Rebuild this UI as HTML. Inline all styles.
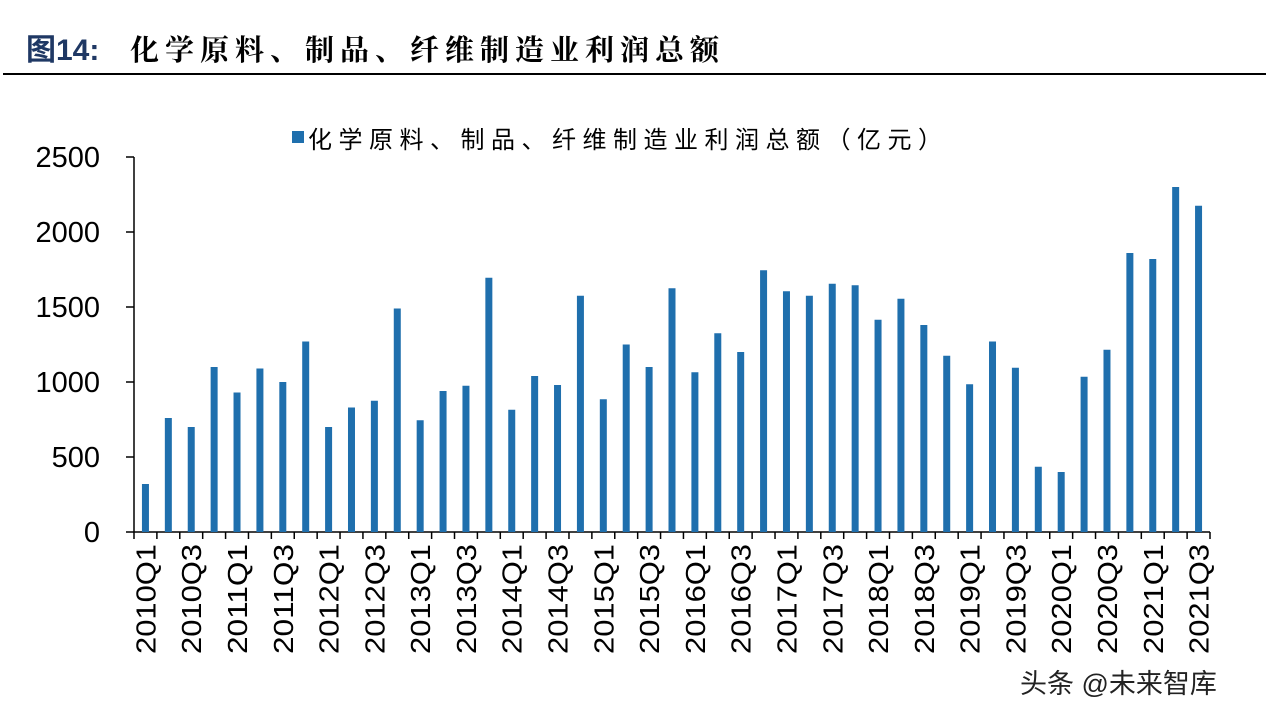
<!DOCTYPE html>
<html><head><meta charset="utf-8"><style>
body{margin:0;background:#fff;width:1284px;height:720px;overflow:hidden;font-family:"Liberation Sans","Noto Sans CJK SC",sans-serif}
</style></head><body>
<svg id="s" width="1284" height="720" xmlns="http://www.w3.org/2000/svg" font-family="Liberation Sans, Noto Sans CJK SC, sans-serif">
<text x="26" y="60" font-size="30" font-weight="bold" fill="#1f3864">图14:</text>
<text x="130" y="60" font-size="29" letter-spacing="6" font-family="Noto Serif CJK SC, Noto Sans CJK SC, serif" font-weight="bold" fill="#000">化学原料、制品、纤维制造业利润总额</text>
<line x1="3" y1="74" x2="1266" y2="74" stroke="#000" stroke-width="2"/>
<rect x="292" y="131" width="12" height="12" fill="#1f6fad"/>
<text x="308" y="148" font-size="24" letter-spacing="6.5" fill="#000">化学原料、制品、纤维制造业利润总额（亿元）</text>
<g id="ax" stroke="#000" stroke-width="1.5" fill="none"></g>
<g id="bars" fill="#1f6fad"></g>
<g id="lab" font-size="29" fill="#000"></g>
<text x="1020" y="693" font-size="27" fill="#222">头条 @未来智库</text>
</svg>
<script>
var v=[320,760,700,1100,930,1090,1000,1270,700,830,875,1490,745,940,975,1695,815,1040,980,1575,885,1250,1100,1625,1065,1325,1200,1745,1605,1575,1655,1645,1415,1555,1380,1175,985,1270,1095,435,400,1035,1215,1860,1820,2300,2175];
var NS="http://www.w3.org/2000/svg";
function el(t,a,p,txt){var e=document.createElementNS(NS,t);for(var k in a)e.setAttribute(k,a[k]);if(txt)e.textContent=txt;document.getElementById(p).appendChild(e);}
var y0=532,sc=0.15,x0=134,x1=1210,step=(x1-x0)/47;
el('path',{d:'M'+x0+' 157V'+y0+'H'+x1},'ax');
for(var i=0;i<=5;i++){var y=y0-i*500*sc;el('line',{x1:126,x2:x0,y1:y,y2:y},'ax');el('text',{x:100,y:y+10,'text-anchor':'end'},'lab',String(i*500));}
for(var i=0;i<=47;i++){var x=x0+i*step;el('line',{x1:x,x2:x,y1:y0,y2:y0+7},'ax');}
for(var i=0;i<v.length;i++){var cx=x0+(i+0.5)*step,h=v[i]*sc;el('rect',{x:cx-3.5,y:y0-h,width:7,height:h},'bars');
if(i%2==0){var q=(i%4==0)?'Q1':'Q3';var yr=2010+Math.floor(i/4);el('text',{x:0,y:0,'text-anchor':'end','font-size':28,textLength:110,lengthAdjust:'spacingAndGlyphs',transform:'translate('+(cx+10)+',544) rotate(-90)'},'lab',yr+q);}}
</script>
</body></html>
